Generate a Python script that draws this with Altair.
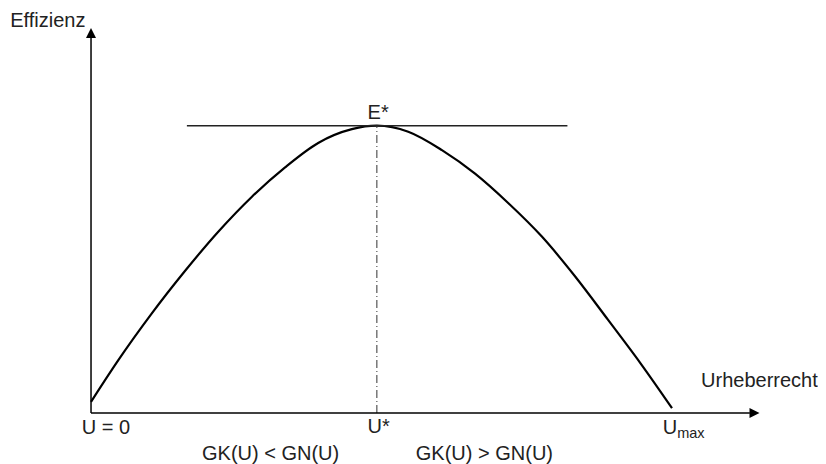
import altair as alt
import pandas as pd

# ---- data (U: copyright strength, 0..100 = U_max; E: efficiency, 100 = E*) ----
curve_u = [0, 4.7, 10.4, 16.2, 21.9, 27.7, 33.4, 39.1, 44.9, 49.2,
           54.6, 60.4, 66.1, 71.8, 77.6, 83.3, 89.0, 94.8, 100]
curve_e = [3.9, 18.4, 34.5, 49.5, 63.1, 75.3, 85.5, 94.0, 98.8, 100,
           97.9, 91.5, 83.3, 73.1, 61.4, 47.6, 32.4, 16.7, 1.7]

u_star = 49.2
e_star = 100
tangent_u = [16.5, 82.0]
x_axis_end = 113.4
y_axis_end = 130.9
x_arrow = 114.2
y_arrow = 132.3

label_text = ["Effizienz", "E*", "U = 0", "U*", "U", "Urheberrecht",
              "GK(U) < GN(U)", "GK(U) > GN(U)"]
label_u = [-13.9, 47.6, -1.6, 47.6, 98.4, 105.0, 19.1, 55.9]
label_e = [134.4, 102.3, -7.4, -7.1, -7.3, 9.15, -16.4, -16.4]

sub_text = ["max"]
sub_u = [100.9]
sub_e = [-8.6]

X_DOMAIN = [-14.29, 125.13]
Y_DOMAIN = [-17.75, 140.97]

xs = alt.Scale(domain=X_DOMAIN, nice=False, zero=False)
ys = alt.Scale(domain=Y_DOMAIN, nice=False, zero=False)
FONT = "Liberation Sans"
TXT = "#222222"

curve_df = pd.DataFrame({"u": curve_u, "e": curve_e})
curve = alt.Chart(curve_df).mark_line(
    color="black", strokeWidth=2.2, interpolate="monotone"
).encode(
    x=alt.X("u:Q", scale=xs, axis=None),
    y=alt.Y("e:Q", scale=ys, axis=None),
)

tangent = alt.Chart(pd.DataFrame({"u": [tangent_u[0]], "u2": [tangent_u[1]], "e": [e_star]})).mark_rule(
    color="#222222", strokeWidth=1.5
).encode(x=alt.X("u:Q", scale=xs, axis=None), x2="u2:Q", y=alt.Y("e:Q", scale=ys, axis=None))

vline = alt.Chart(pd.DataFrame({"u": [u_star], "e": [0], "e2": [e_star]})).mark_rule(
    color="#333333", strokeWidth=1, strokeDash=[8, 3, 1, 3]
).encode(x=alt.X("u:Q", scale=xs, axis=None), y=alt.Y("e:Q", scale=ys, axis=None), y2="e2:Q")

xaxis = alt.Chart(pd.DataFrame({"u": [0], "u2": [x_axis_end], "e": [0]})).mark_rule(
    color="black", strokeWidth=1.5
).encode(x=alt.X("u:Q", scale=xs, axis=None), x2="u2:Q", y=alt.Y("e:Q", scale=ys, axis=None))

yaxis = alt.Chart(pd.DataFrame({"u": [0], "e": [0], "e2": [y_axis_end]})).mark_rule(
    color="black", strokeWidth=1.5
).encode(x=alt.X("u:Q", scale=xs, axis=None), y=alt.Y("e:Q", scale=ys, axis=None), y2="e2:Q")

xhead = alt.Chart(pd.DataFrame({"u": [x_arrow], "e": [0]})).mark_point(
    shape="M-1,-1L1,0L-1,1Z", size=100, filled=True, color="black", opacity=1, strokeWidth=0
).encode(x=alt.X("u:Q", scale=xs, axis=None), y=alt.Y("e:Q", scale=ys, axis=None))

yhead = alt.Chart(pd.DataFrame({"u": [0], "e": [y_arrow]})).mark_point(
    shape="M-1,1L0,-1L1,1Z", size=100, filled=True, color="black", opacity=1, strokeWidth=0
).encode(x=alt.X("u:Q", scale=xs, axis=None), y=alt.Y("e:Q", scale=ys, axis=None))

labels = alt.Chart(pd.DataFrame({"t": label_text, "u": label_u, "e": label_e})).mark_text(
    align="left", baseline="alphabetic", font=FONT, fontSize=20, color=TXT
).encode(x=alt.X("u:Q", scale=xs, axis=None), y=alt.Y("e:Q", scale=ys, axis=None), text="t:N")

sublabels = alt.Chart(pd.DataFrame({"t": sub_text, "u": sub_u, "e": sub_e})).mark_text(
    align="left", baseline="alphabetic", font=FONT, fontSize=14.5, color=TXT
).encode(x=alt.X("u:Q", scale=xs, axis=None), y=alt.Y("e:Q", scale=ys, axis=None), text="t:N")

chart = alt.layer(
    curve, tangent, vline, xaxis, yaxis, xhead, yhead, labels, sublabels
).properties(
    width=810, height=456, padding=0,
    autosize=alt.AutoSizeParams(type="none"),
    background="white",
).configure_view(stroke=None)

chart.save("out.html", embed_options={"renderer": "svg", "actions": False})
